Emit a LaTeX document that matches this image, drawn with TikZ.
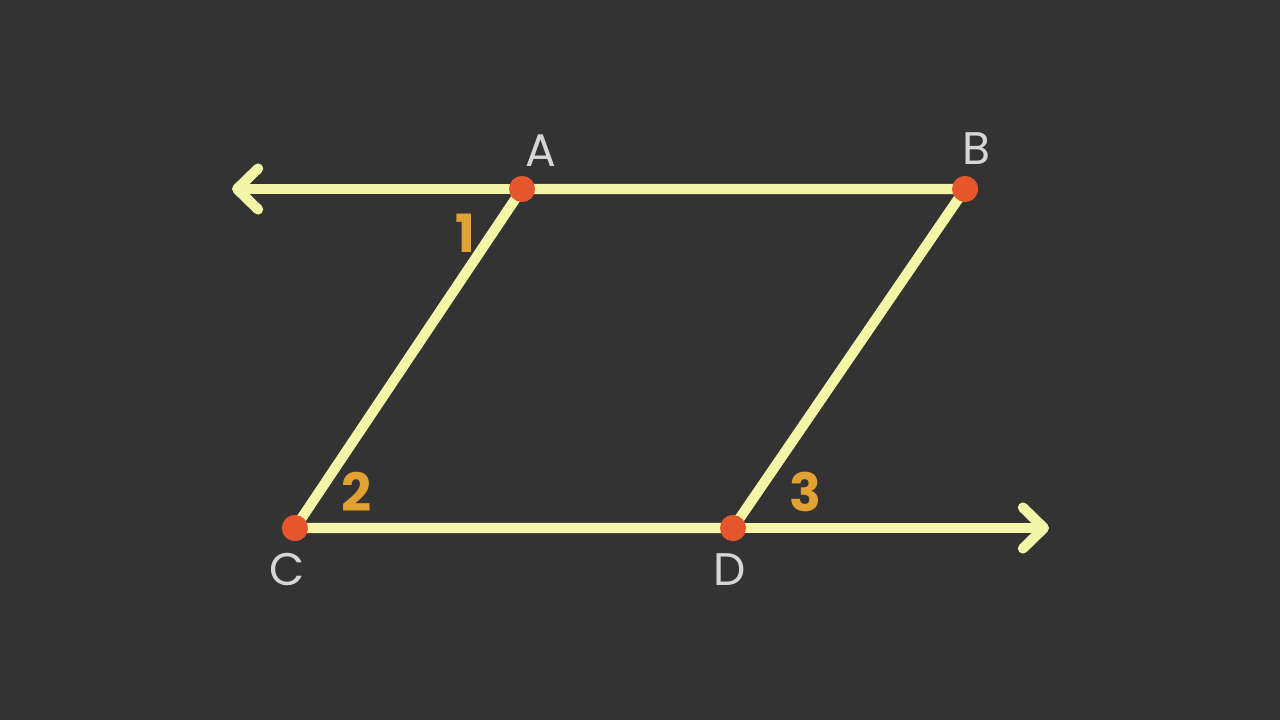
\documentclass[tikz,border=0pt]{standalone}
\usepackage{fontspec}
\setmainfont{Poppins}
\usepackage{xcolor}
\usetikzlibrary{arrows.meta}
\usetikzlibrary{positioning}

\definecolor{board}{HTML}{333333}
\definecolor{chalkline}{HTML}{F3F6A6}
\definecolor{pointred}{HTML}{E5562C}
\definecolor{anglenum}{HTML}{E1A133}
\definecolor{chalkwhite}{HTML}{D6D6D6}

\begin{document}
\begin{tikzpicture}[x=0.02cm, y=-0.02cm, line width=5.8pt, line cap=round]
\tikzstyle{point} = [circle, fill=pointred, inner sep=0pt, minimum size=0.52cm]
\tikzstyle{seg} = [draw=chalkline]
\tikzstyle{ray} = [draw=chalkline, -{Straight Barb[length=0.42cm, width=0.82cm, round]}]
\tikzstyle{letter} = [text=chalkwhite, font=\fontsize{26}{30}\selectfont]
\tikzstyle{angle} = [text=anglenum, font=\fontsize{30}{34}\selectfont\bfseries]

% chalkboard
\fill[board] (0,0) rectangle (1280,720);

\coordinate (L) at (232,189);
\coordinate (R) at (1049,528);

\node[point] (A) at (522,189) {};
\node[point] (B) at (965,189) {};
\node[point] (C) at (295,528) {};
\node[point] (D) at (733,528) {};

\draw[ray] (A.center) -- (L);
\draw[ray] (D.center) -- (R);
\draw[seg] (A.center) -- (B.center) -- (D.center) -- (C.center) -- cycle;

\node[point] at (A) {};
\node[point] at (B) {};
\node[point] at (C) {};
\node[point] at (D) {};

\node[letter] (la) at (541,151) {A};
\node[letter] (lb) at (976,149) {B};
\node[letter] (lc) at (287,570) {C};
\node[letter] (ld) at (730,570) {D};

\node[angle] (n1) at (465,233) {1};
\node[angle] (n2) at (357,492) {2};
\node[angle] (n3) at (805,492) {3};

\end{tikzpicture}
\end{document}
